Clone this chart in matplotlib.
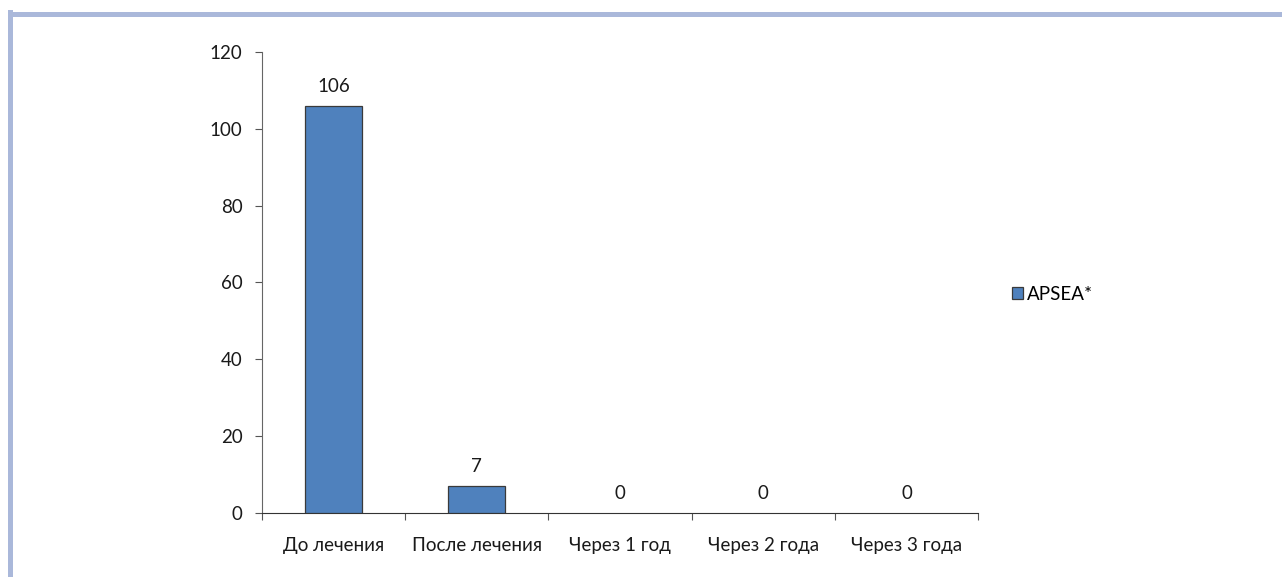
import matplotlib.pyplot as plt
from matplotlib.lines import Line2D
from matplotlib.patches import Patch

categories = ['До лечения', 'После лечения', 'Через 1 год', 'Через 2 года', 'Через 3 года']
apsea = [106, 7, 0, 0, 0]
yticks = [0, 20, 40, 60, 80, 100, 120]

plt.rcParams['font.family'] = ['Lato', 'DejaVu Sans']
fs = 13.5

fig = plt.figure(figsize=(12.82, 5.77), dpi=100)
ax = fig.add_axes([0.2044, 0.1109, 0.5585, 0.799])

x = list(range(len(categories)))
# zero bars get no outline so they don't thicken the axis line
lws = [0.9 if v > 0 else 0 for v in apsea]
ax.bar(x, apsea, width=0.4, color='#4F81BD', edgecolor='#3a3a3a', linewidth=lws, zorder=3)
for xi, v in zip(x, apsea):
    ax.annotate(str(v), (xi, v), xytext=(0, 8), textcoords='offset points',
                ha='center', va='bottom', fontsize=fs, color='#1a1a1a')

ax.set_xlim(-0.5, len(categories) - 0.5)
ax.set_ylim(0, 120)
ax.set_yticks(yticks)
ax.set_xticks([i - 0.5 for i in range(len(categories) + 1)])
ax.set_xticklabels([])
ax.set_xticks(x, minor=True)
ax.set_xticklabels(categories, minor=True)
ax.tick_params(axis='x', which='minor', length=0, pad=17)
ax.tick_params(axis='x', which='major', length=5, color='#555555')
ax.tick_params(axis='y', length=5, color='#555555', pad=9)
for lab in ax.get_xticklabels(minor=True) + ax.get_yticklabels():
    lab.set_color('#1a1a1a')
    lab.set_fontsize(fs)

for s in ['top', 'right']:
    ax.spines[s].set_visible(False)
ax.spines['left'].set_color('#666666')
ax.spines['bottom'].set_color('#333333')

handle = Patch(facecolor='#4F81BD', edgecolor='#3a3a3a', linewidth=0.9)
fig.legend([handle], ['APSEA*'], loc='center left', bbox_to_anchor=(0.776, 0.49),
           frameon=False, handlelength=0.6, handleheight=0.6, handletextpad=0.2, fontsize=fs)

# frame lines along the top and left edges
fig.add_artist(Line2D([11 / 1282, 1.0], [1 - 13.5 / 577] * 2, transform=fig.transFigure,
                      color='#AAB8DA', linewidth=3.6))
fig.add_artist(Line2D([9.5 / 1282] * 2, [0.0, 1 - 11.7 / 577], transform=fig.transFigure,
                      color='#AAB8DA', linewidth=3.6))

fig.savefig('out.png', dpi=100)
